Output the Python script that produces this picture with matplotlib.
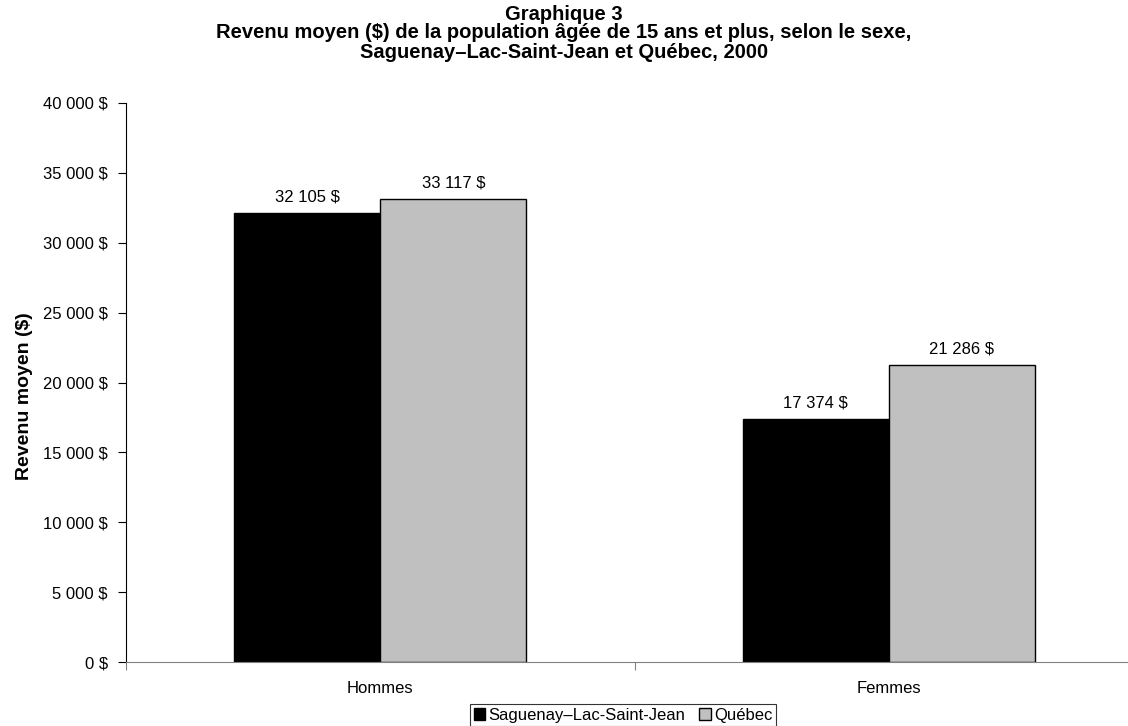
import numpy as np
import matplotlib.pyplot as plt
from matplotlib.ticker import FuncFormatter

plt.rcParams['font.family'] = ['Liberation Sans', 'DejaVu Sans']

categories = ['Hommes', 'Femmes']
series_names = ['Saguenay–Lac-Saint-Jean', 'Québec']
saguenay = [32105, 17374]
quebec = [33117, 21286]
colors = ['#000000', '#C0C0C0']

W, H = 1128, 726
fig = plt.figure(figsize=(W / 100, H / 100), dpi=100)
# axes extends a bit past the right edge, as in the reference
ax = fig.add_axes([126 / W, (H - 662) / H, 1017 / W, (662 - 103) / H])

x = np.arange(len(categories))
bw = 0.2874
b1 = ax.bar(x - bw / 2, saguenay, bw, color=colors[0], edgecolor='black', linewidth=1, label=series_names[0])
b2 = ax.bar(x + bw / 2, quebec, bw, color=colors[1], edgecolor='black', linewidth=1, label=series_names[1])

def fmt(v):
    return f"{int(v):,}".replace(',', ' ') + ' $'

fs = 12
for bars in (b1, b2):
    for r in bars:
        ax.text(r.get_x() + r.get_width() / 2, r.get_height() + 600, fmt(r.get_height()),
                ha='center', va='bottom', fontsize=fs)

ax.set_ylim(0, 40000)
ax.set_yticks(np.arange(0, 40001, 5000))
ax.yaxis.set_major_formatter(FuncFormatter(lambda v, p: fmt(v)))
ax.set_xlim(-0.5, 1.5)
ax.set_xticks([-0.5, 0.5, 1.5])
ax.set_xticklabels([])
ax.set_xticks(x, minor=True)
ax.set_xticklabels(categories, minor=True)
ax.tick_params(axis='x', which='minor', length=0, pad=14, labelsize=fs)
ax.tick_params(axis='x', which='major', length=6, direction='out', color='#808080')
ax.tick_params(axis='y', length=6, direction='out', labelsize=fs, pad=7)

for s in ['top', 'right']:
    ax.spines[s].set_visible(False)
ax.spines['bottom'].set_color('#808080')
ax.spines['left'].set_color('black')

ax.set_ylabel('Revenu moyen ($)', fontsize=14, fontweight='bold')
ax.yaxis.set_label_coords(-93 / 1017, 0.475)

tfs = 14.5
fig.text(0.5, 1 - 14 / H, 'Graphique 3', ha='center', va='center', fontsize=tfs, fontweight='bold')
fig.text(0.5, 1 - 33 / H, 'Revenu moyen ($) de la population âgée de 15 ans et plus, selon le sexe,',
         ha='center', va='center', fontsize=tfs, fontweight='bold')
fig.text(0.5, 1 - 52 / H, 'Saguenay–Lac-Saint-Jean et Québec, 2000', ha='center', va='center',
         fontsize=tfs, fontweight='bold')

leg = fig.legend(loc='lower center', bbox_to_anchor=(623 / W, 0.0), ncol=2, frameon=True,
                 fancybox=False, edgecolor='black', fontsize=fs, handlelength=0.7, handleheight=0.7,
                 handletextpad=0.2, columnspacing=0.8, borderpad=0.2, borderaxespad=0)
leg.get_frame().set_linewidth(0.8)

fig.savefig('out.png', dpi=100)
